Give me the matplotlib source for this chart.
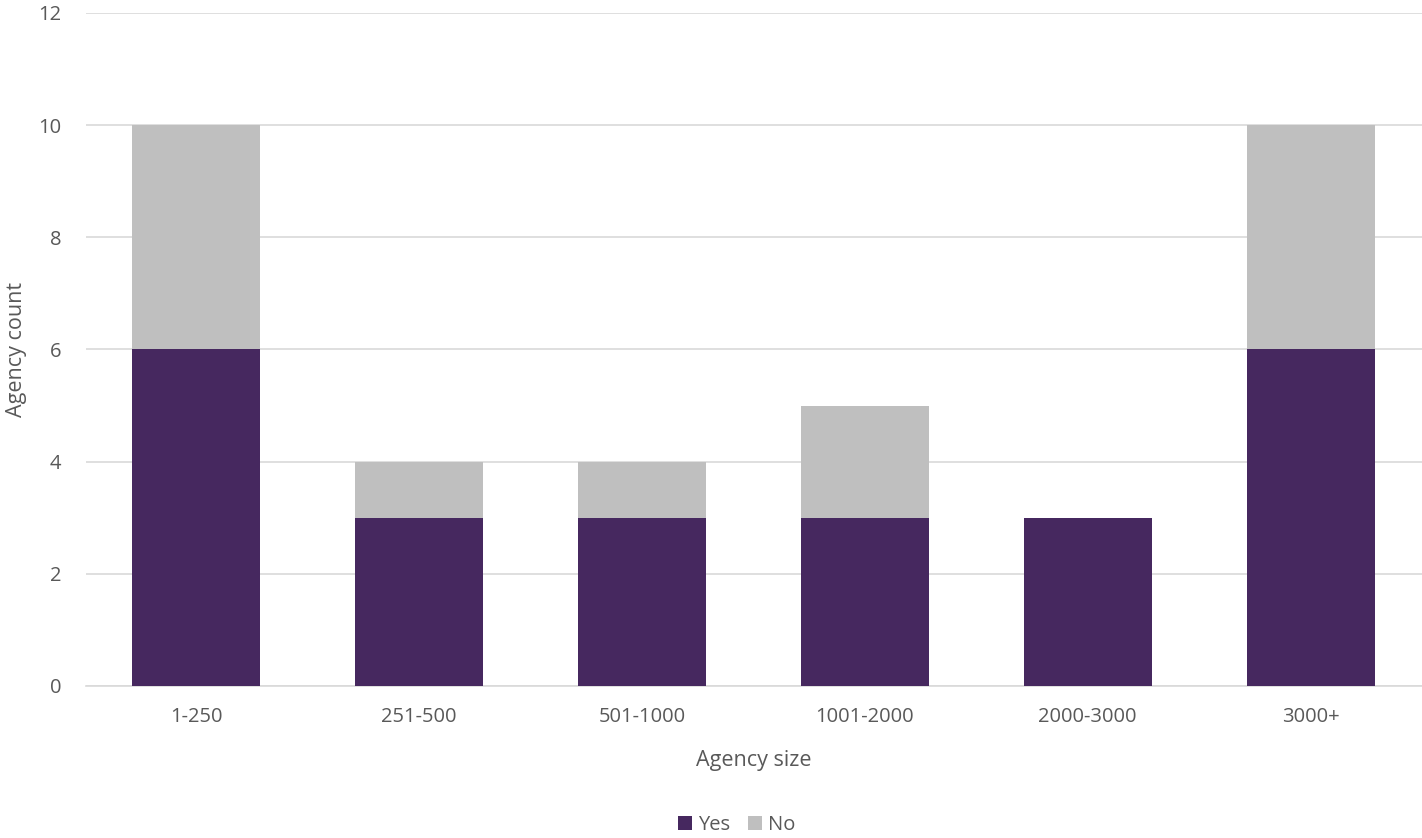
import matplotlib.pyplot as plt
import numpy as np

# Agency counts by size band
sizes = ["1-250", "251-500", "501-1000", "1001-2000", "2000-3000", "3000+"]
yes_counts = [6, 3, 3, 3, 3, 6]
no_counts = [4, 1, 1, 2, 0, 4]

purple = "#46285F"
grey = "#BFBFBF"
text_col = "#595959"

plt.rcParams['font.family'] = ['Open Sans', 'DejaVu Sans']

fig = plt.figure(figsize=(14.22, 8.38), dpi=100)
ax = fig.add_axes([0.0605, 0.1814, 0.9395, 0.8031])

x = np.arange(len(sizes))
ax.bar(x, yes_counts, width=0.574, color=purple, label="Yes", zorder=3)
ax.bar(x, no_counts, width=0.574, bottom=yes_counts, color=grey, label="No", zorder=3)

ax.set_xlim(-0.495, 5.5)
ax.set_ylim(0, 12)
ax.set_yticks(range(0, 13, 2))
ax.set_xticks(x)
ax.set_xticklabels(sizes)

ax.grid(axis='y', color="#D9D9D9", linewidth=1.2, zorder=0)
for s in ['top', 'right', 'left']:
    ax.spines[s].set_visible(False)
ax.spines['bottom'].set_color("#D9D9D9")
ax.spines['bottom'].set_linewidth(1.2)
ax.tick_params(axis='both', length=0, colors=text_col, labelsize=14.5)
ax.tick_params(axis='x', pad=15)
ax.tick_params(axis='y', pad=18)

ax.set_xlabel("Agency size", fontsize=15.5, color=text_col, labelpad=17)
ax.set_ylabel("Agency count", fontsize=15.5, color=text_col, labelpad=8)

ax.legend(loc='upper center', bbox_to_anchor=(0.5 - 0.013, -0.165), ncol=2,
          frameon=False, fontsize=14.5, handlelength=0.7, handleheight=0.7,
          handletextpad=0.3, columnspacing=0.9, labelcolor=text_col)

fig.savefig("out.png", dpi=100)
